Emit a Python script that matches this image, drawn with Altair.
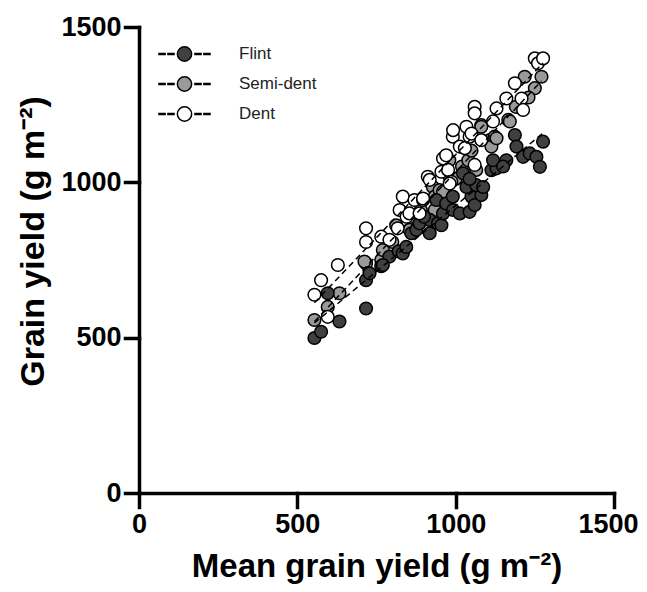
import altair as alt
import pandas as pd

groups = ["Flint", "Semi-dent", "Dent"]
colors = ["#404040", "#9a9a9a", "#ffffff"]

flint_x = [554, 575, 633, 596, 717, 717, 728, 765, 791, 770, 820, 833, 844, 860, 876, 886,
           918, 918, 900, 939, 944, 955, 960, 970, 991, 992, 1013, 1044, 1050, 1060, 1081, 1034,
           1065, 1023, 1044, 1087, 1113, 1129, 1118, 1160, 1150, 1187, 1192, 1213, 1234, 1255,
           1276, 1266]
flint_y = [499, 519, 552, 643, 594, 685, 707, 730, 761, 734, 778, 771, 792, 836, 847, 868,
           836, 879, 889, 943, 868, 862, 900, 932, 954, 911, 900, 905, 954, 927, 959, 985,
           991, 1029, 1011, 985, 1039, 1045, 1071, 1071, 1051, 1152, 1115, 1082, 1093, 1082,
           1131, 1050]

semi_x = [554, 596, 633, 717, 712, 765, 770, 800, 812, 854, 860, 890, 928, 934, 934, 949,
          960, 981, 1000, 1020, 1040, 1065, 1081, 1081, 1108, 1113, 1123, 1129, 1166, 1171,
          1190, 1218, 1250, 1271, 1230, 1050, 980]
semi_y = [557, 599, 643, 739, 745, 750, 782, 808, 862, 847, 889, 910, 985, 954, 911, 975,
          970, 1018, 1011, 1051, 1071, 1040, 1184, 1179, 1136, 1115, 1147, 1142, 1201, 1196,
          1243, 1340, 1303, 1340, 1273, 1102, 1071]

dent_x = [554, 575, 628, 596, 717, 717, 765, 791, 817, 823, 833, 845, 854, 870, 886, 897,
          897, 912, 918, 955, 960, 970, 976, 986, 981, 991, 992, 1013, 1029, 1034, 1044, 1050,
          1060, 1060, 1060, 1081, 1118, 1129, 1160, 1187, 1208, 1213, 1250, 1260, 1276]
dent_y = [638, 685, 734, 567, 852, 808, 825, 815, 852, 911, 954, 889, 900, 943, 900, 943,
          948, 1018, 1008, 1034, 1077, 1087, 1040, 1002, 996, 1147, 1168, 1115, 1110, 1179,
          1147, 1157, 1056, 1243, 1222, 1136, 1196, 1238, 1270, 1319, 1270, 1233, 1399, 1383,
          1399]

axis_values = [0, 500, 1000, 1500]

rows = []
for g, xs, ys in [("Semi-dent", semi_x, semi_y), ("Flint", flint_x, flint_y), ("Dent", dent_x, dent_y)]:
    for a, b in zip(xs, ys):
        rows.append({"group": g, "x": a, "y": b})
df = pd.DataFrame(rows)

legend_path = (
    "M -1 -0.02 H -0.76 V 0.02 H -1 Z "
    "M -0.65 -0.02 H -0.41 V 0.02 H -0.65 Z "
    "M 0.41 -0.02 H 0.65 V 0.02 H 0.41 Z "
    "M 0.76 -0.02 H 1 V 0.02 H 0.76 Z "
    "M -0.28 0 C -0.28 -0.155 -0.155 -0.28 0 -0.28 "
    "C 0.155 -0.28 0.28 -0.155 0.28 0 "
    "C 0.28 0.155 0.155 0.28 0 0.28 "
    "C -0.155 0.28 -0.28 0.155 -0.28 0 Z"
)

xenc = alt.X("x:Q", scale=alt.Scale(domain=[0, 1500], nice=False, zero=True),
             axis=alt.Axis(values=axis_values, format="d", title="Mean grain yield (g m⁻²)",
                           titleFontSize=33, titlePadding=13,
                           labelAlign=alt.expr("datum.value == 1500 ? 'right' : 'center'"),
                           labelOffset=alt.expr("datum.value == 1500 ? 24 : 0")))
yenc = alt.Y("y:Q", scale=alt.Scale(domain=[0, 1500], nice=False, zero=True),
             axis=alt.Axis(values=axis_values, format="d", title="Grain yield (g m⁻²)",
                           titleFontSize=34, titlePadding=10, titleY=214))

points = alt.Chart(df).mark_circle(size=160, opacity=1, stroke="black", strokeWidth=1.5).encode(
    x=xenc,
    y=yenc,
    color=alt.Color("group:N", scale=alt.Scale(domain=groups, range=colors),
                    legend=alt.Legend(title=None, orient="none", legendX=19, legendY=17,
                                      symbolType=legend_path, symbolSize=2601,
                                      symbolStrokeColor="black", symbolStrokeWidth=1.5,
                                      symbolOpacity=1,
                                      clipHeight=20, rowPadding=10, labelOffset=28,
                                      labelFont="Liberation Sans", labelFontSize=17,
                                      labelColor="#222", padding=0)),
)

lines = alt.Chart(df).transform_regression(
    "x", "y", groupby=["group"]
).mark_line(color="black", strokeDash=[6, 4], strokeWidth=1.5).encode(
    x="x:Q", y="y:Q", detail="group:N"
)

chart = alt.layer(points, lines).properties(
    width=475, height=466,
    autosize=alt.AutoSizeParams(type="none"),
    padding={"left": 131, "top": 19, "right": 25, "bottom": 93},
).configure_view(stroke=None).configure_axis(
    grid=False,
    domainColor="black", domainWidth=3.5, domainCap="square",
    tickColor="black", tickWidth=3.5, tickSize=14, tickCap="square",
    labelFont="Liberation Sans", labelFontWeight="bold", labelFontSize=27, labelColor="black",
    labelPadding=4, labelFlush=False, labelOverlap=False,
    titleFont="Liberation Sans", titleFontWeight="bold", titleColor="black",
)

chart.save("out.html", embed_options={"renderer": "svg", "actions": False})
